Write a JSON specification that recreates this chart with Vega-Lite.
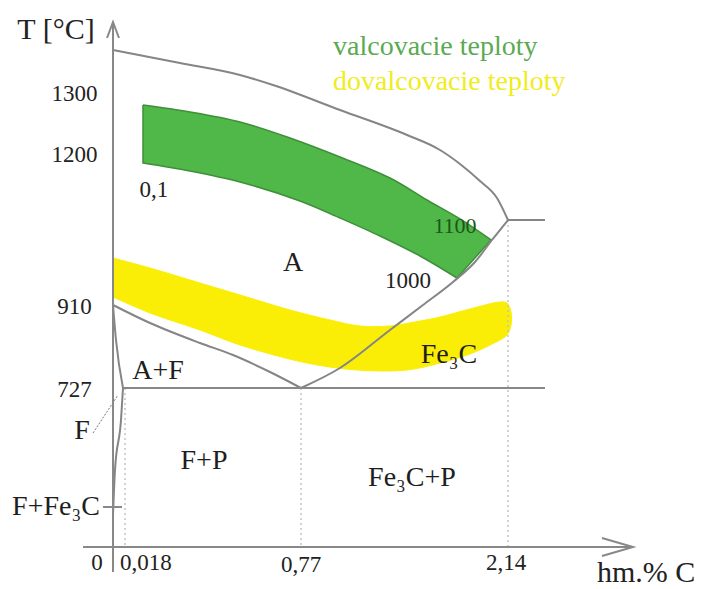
{
  "$schema": "https://vega.github.io/schema/vega-lite/v6.json",
  "width": 705,
  "height": 589,
  "autosize": "none",
  "padding": 0,
  "background": "white",
  "config": {"view": {"stroke": null}, "font": "Liberation Serif", "text": {"font": "Liberation Serif"}},
  "encoding": {
    "x": {"field": "x", "type": "quantitative", "axis": null,
      "scale": {"type": "linear", "domain": [-0.75, 0, 0.018, 0.77, 2.14, 3.44], "range": [0, 113, 125, 301, 508, 705], "nice": false, "zero": false}},
    "y": {"field": "y", "type": "quantitative", "axis": null,
      "scale": {"type": "linear", "domain": [-192, 0, 727, 910, 1200, 1300, 1458], "range": [589, 547, 388, 305, 155, 95, 0], "nice": false, "zero": false}}
  },
  "layer": [
    {
      "data": {"values": [
        {"i": 0, "x": 0, "y": 1000.9}, {"i": 1, "x": 0.1248, "y": 981.5}, {"i": 2, "x": 0.3385, "y": 952.5},
        {"i": 3, "x": 0.5521, "y": 923.5}, {"i": 4, "x": 0.723, "y": 899.0}, {"i": 5, "x": 0.9619, "y": 876.9},
        {"i": 6, "x": 1.1605, "y": 863.7}, {"i": 7, "x": 1.359, "y": 863.7}, {"i": 8, "x": 1.5576, "y": 874.7},
        {"i": 9, "x": 1.69, "y": 883.5}, {"i": 10, "x": 1.8885, "y": 901.2}, {"i": 11, "x": 2.087, "y": 915.8},
        {"i": 12, "x": 2.1334, "y": 913.9}, {"i": 13, "x": 2.1598, "y": 894.6}, {"i": 14, "x": 2.1598, "y": 865.9},
        {"i": 15, "x": 2.1334, "y": 843.9}, {"i": 16, "x": 2.0209, "y": 821.8}, {"i": 17, "x": 1.8885, "y": 802.0},
        {"i": 18, "x": 1.69, "y": 782.1}, {"i": 19, "x": 1.4716, "y": 766.7}, {"i": 20, "x": 1.1406, "y": 766.7},
        {"i": 21, "x": 0.8097, "y": 782.1}, {"i": 22, "x": 0.5094, "y": 821.8}, {"i": 23, "x": 0.3385, "y": 854.9},
        {"i": 24, "x": 0.1248, "y": 892.4}, {"i": 25, "x": 0, "y": 925.5}, {"i": 26, "x": 0, "y": 925.5},
        {"i": 27, "x": 0, "y": 1000.9}, {"i": 28, "x": 0, "y": 1000.9}
      ]},
      "mark": {"type": "line", "fill": "#fbee06", "stroke": "#fbee06", "strokeWidth": 1, "interpolate": "catmull-rom"},
      "encoding": {"order": {"field": "i"}}
    },
    {
      "data": {"values": [
        {"i": 0, "x": 0.0949, "y": 1283.3}, {"i": 1, "x": 0.0949, "y": 1283.3}, {"i": 2, "x": 0.2957, "y": 1271.7}, {"i": 3, "x": 0.5094, "y": 1255.0},
        {"i": 4, "x": 0.723, "y": 1228.3}, {"i": 5, "x": 1.0281, "y": 1196.1}, {"i": 6, "x": 1.359, "y": 1155.5},
        {"i": 7, "x": 1.604, "y": 1113.0}, {"i": 8, "x": 1.8224, "y": 1076.3}, {"i": 9, "x": 2.0275, "y": 1035.7}, {"i": 10, "x": 2.0275, "y": 1035.7},
        {"i": 11, "x": 1.8025, "y": 962.2}, {"i": 12, "x": 1.8025, "y": 962.2}, {"i": 13, "x": 1.5576, "y": 1004.7}, {"i": 14, "x": 1.2929, "y": 1043.4},
        {"i": 15, "x": 1.0281, "y": 1078.2}, {"i": 16, "x": 0.7657, "y": 1111.1}, {"i": 17, "x": 0.5094, "y": 1147.8},
        {"i": 18, "x": 0.2957, "y": 1169.1}, {"i": 19, "x": 0.0949, "y": 1184.5}, {"i": 20, "x": 0.0949, "y": 1184.5}, {"i": 21, "x": 0.0949, "y": 1283.3}
      ]},
      "mark": {"type": "line", "fill": "#50b848", "stroke": "#3f8f3a", "strokeWidth": 1.5, "interpolate": "catmull-rom"},
      "encoding": {"order": {"field": "i"}}
    },
    {
      "data": {"values": [
        {"g": "d1", "i": 0, "x": 0.018, "y": 727}, {"g": "d1", "i": 1, "x": 0.018, "y": 0},
        {"g": "d2", "i": 0, "x": 0.77, "y": 727}, {"g": "d2", "i": 1, "x": 0.77, "y": 0},
        {"g": "d3", "i": 0, "x": 2.14, "y": 1074.3}, {"g": "d3", "i": 1, "x": 2.14, "y": 0}
      ]},
      "mark": {"type": "line", "stroke": "#c4c4c4", "strokeWidth": 1.5, "strokeDash": [2, 3]},
      "encoding": {"detail": {"field": "g"}, "order": {"field": "i"}}
    },
    {
      "data": {"values": [
        {"g": "lf", "i": 0, "x": -0.1327, "y": 521.2}, {"g": "lf", "i": 1, "x": 0.0075, "y": 695}
      ]},
      "mark": {"type": "line", "stroke": "#777777", "strokeWidth": 1, "strokeDash": [2, 1.5]},
      "encoding": {"detail": {"field": "g"}, "order": {"field": "i"}}
    },
    {
      "data": {"values": [
        {"g": "liq", "i": 0, "x": 0, "y": 1374.8}, {"g": "liq", "i": 1, "x": 0.253, "y": 1353.2},
        {"g": "liq", "i": 2, "x": 0.509, "y": 1333.3}, {"g": "liq", "i": 3, "x": 0.65, "y": 1316.6},
        {"g": "liq", "i": 4, "x": 1.028, "y": 1275.0}, {"g": "liq", "i": 5, "x": 1.472, "y": 1233.3},
        {"g": "liq", "i": 6, "x": 1.69, "y": 1208.3}, {"g": "liq", "i": 7, "x": 1.8224, "y": 1182.6},
        {"g": "liq", "i": 8, "x": 1.9547, "y": 1149.7}, {"g": "liq", "i": 9, "x": 2.0672, "y": 1116.9},
        {"g": "liq", "i": 10, "x": 2.14, "y": 1074.3},
        {"g": "rt", "i": 0, "x": 2.14, "y": 1074.3}, {"g": "rt", "i": 1, "x": 2.384, "y": 1074.3},
        {"g": "acm", "i": 0, "x": 0.77, "y": 727}, {"g": "acm", "i": 1, "x": 1.028, "y": 771.1},
        {"g": "acm", "i": 2, "x": 1.359, "y": 854.9}, {"g": "acm", "i": 3, "x": 1.5775, "y": 910},
        {"g": "acm", "i": 4, "x": 1.776, "y": 954.5}, {"g": "acm", "i": 5, "x": 1.9216, "y": 993.1},
        {"g": "acm", "i": 6, "x": 2.034, "y": 1035.7}, {"g": "acm", "i": 7, "x": 2.14, "y": 1074.3},
        {"g": "gs", "i": 0, "x": 0, "y": 910}, {"g": "gs", "i": 1, "x": 0.1248, "y": 870.3},
        {"g": "gs", "i": 2, "x": 0.3385, "y": 826.2}, {"g": "gs", "i": 3, "x": 0.4795, "y": 799.8},
        {"g": "gs", "i": 4, "x": 0.6376, "y": 762.3}, {"g": "gs", "i": 5, "x": 0.77, "y": 727},
        {"g": "gp", "i": 0, "x": 0, "y": 910}, {"g": "gp", "i": 1, "x": 0.0045, "y": 832.8},
        {"g": "gp", "i": 2, "x": 0.015, "y": 727},
        {"g": "pq", "i": 0, "x": 0.015, "y": 727}, {"g": "pq", "i": 1, "x": 0.012, "y": 580.7},
        {"g": "pq", "i": 2, "x": 0.003, "y": 352.1}, {"g": "pq", "i": 3, "x": 0, "y": 146.3}
      ]},
      "mark": {"type": "line", "stroke": "#858585", "strokeWidth": 2, "interpolate": "monotone"},
      "encoding": {"detail": {"field": "g"}, "order": {"field": "i"}}
    },
    {
      "data": {"values": [
        {"g": "eut", "i": 0, "x": 0.015, "y": 727}, {"g": "eut", "i": 1, "x": 2.384, "y": 727},
        {"g": "tk", "i": 0, "x": -0.0664, "y": 182.9}, {"g": "tk", "i": 1, "x": 0.0135, "y": 182.9},
        {"g": "yax", "i": 0, "x": 0, "y": -114.3}, {"g": "yax", "i": 1, "x": 0, "y": 1421.4},
        {"g": "yarr", "i": 0, "x": -0.0398, "y": 1394.8}, {"g": "yarr", "i": 1, "x": 0, "y": 1421.4}, {"g": "yarr", "i": 2, "x": 0.009, "y": 1394.8},
        {"g": "xax", "i": 0, "x": -0.199, "y": 0}, {"g": "xax", "i": 1, "x": 2.9649, "y": 0},
        {"g": "xarr", "i": 0, "x": 2.7603, "y": 41.1}, {"g": "xarr", "i": 1, "x": 2.9649, "y": 0}, {"g": "xarr", "i": 2, "x": 2.7603, "y": -41.1}
      ]},
      "mark": {"type": "line", "stroke": "#888888", "strokeWidth": 2},
      "encoding": {"detail": {"field": "g"}, "order": {"field": "i"}}
    },
    {
      "data": {"values": [
        {"x": 0.7358, "y": 991.2, "t": "A"},
        {"x": 0.159, "y": 764.5, "t": "A+F"},
        {"x": 1.7495, "y": 799.8, "t": "Fe₃C"},
        {"x": -0.2057, "y": 530.4, "t": "F"},
        {"x": 0.3555, "y": 393.2, "t": "F+P"},
        {"x": 1.5047, "y": 315.5, "t": "Fe₃C+P"},
        {"x": -0.3783, "y": 182.9, "t": "F+Fe₃C"}
      ]},
      "mark": {"type": "text", "fontSize": 28, "color": "#1e1e1e", "align": "center", "baseline": "middle"},
      "encoding": {"text": {"field": "t"}}
    },
    {
      "data": {"values": [
        {"x": -0.2555, "y": 1302, "t": "1300"},
        {"x": -0.2555, "y": 1200, "t": "1200"},
        {"x": -0.2555, "y": 906, "t": "910"},
        {"x": -0.2555, "y": 718, "t": "727"},
        {"x": -0.1062, "y": -75, "t": "0"},
        {"x": 0.1077, "y": -75, "t": "0,018"},
        {"x": 0.77, "y": -80, "t": "0,77"},
        {"x": 2.128, "y": -75, "t": "2,14"},
        {"x": 0.1419, "y": 1132.3, "t": "0,1"},
        {"x": 1.4782, "y": 956.4, "t": "1000"}
      ]},
      "mark": {"type": "text", "fontSize": 23, "color": "#222222", "align": "center", "baseline": "middle"},
      "encoding": {"text": {"field": "t"}}
    },
    {
      "data": {"values": [{"x": 1.7893, "y": 1062.7, "t": "1100"}]},
      "mark": {"type": "text", "fontSize": 22, "color": "#1b561b", "align": "center", "baseline": "middle"},
      "encoding": {"text": {"field": "t"}}
    },
    {
      "data": {"values": [{"x": -0.3783, "y": 1408.1, "t": "T [°C]"}]},
      "mark": {"type": "text", "fontSize": 30, "color": "#222222", "align": "center", "baseline": "middle"},
      "encoding": {"text": {"field": "t"}}
    },
    {
      "data": {"values": [{"x": 2.7273, "y": -160, "t": "hm.% C"}]},
      "mark": {"type": "text", "fontSize": 30, "color": "#222222", "align": "left", "baseline": "alphabetic"},
      "encoding": {"text": {"field": "t"}}
    },
    {
      "data": {"values": [{"x": 0.9818, "y": 1366.5, "t": "valcovacie teploty"}]},
      "mark": {"type": "text", "fontSize": 28, "color": "#5aaa52", "align": "left", "baseline": "alphabetic"},
      "encoding": {"text": {"field": "t"}}
    },
    {
      "data": {"values": [{"x": 0.9818, "y": 1308.3, "t": "dovalcovacie teploty"}]},
      "mark": {"type": "text", "fontSize": 28, "color": "#f0ec1e", "align": "left", "baseline": "alphabetic"},
      "encoding": {"text": {"field": "t"}}
    }
  ]
}
